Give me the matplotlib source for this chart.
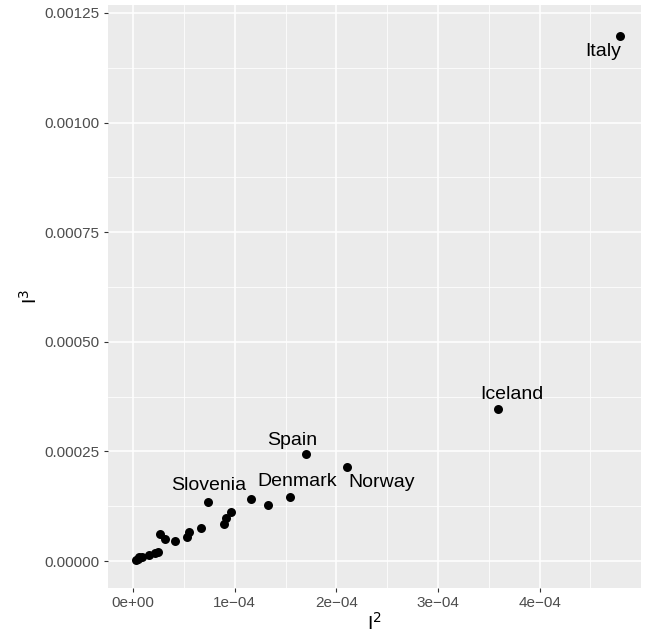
import matplotlib
matplotlib.use("Agg")
import matplotlib.pyplot as plt

# values
x_vals = [4.79e-4, 3.59e-4, 1.706e-4, 2.109e-4, 1.542e-4, 1.332e-4, 1.158e-4,
          0.741e-4, 0.965e-4, 0.912e-4, 0.899e-4, 0.672e-4, 0.551e-4, 0.531e-4,
          0.413e-4, 0.315e-4, 0.269e-4, 0.243e-4, 0.220e-4, 0.157e-4, 0.085e-4,
          0.062e-4, 0.052e-4, 0.026e-4]
y_vals = [1.1975e-3, 3.47e-4, 2.44e-4, 2.144e-4, 1.467e-4, 1.284e-4, 1.421e-4,
          1.339e-4, 1.118e-4, 0.988e-4, 0.837e-4, 0.760e-4, 0.662e-4, 0.540e-4,
          0.456e-4, 0.509e-4, 0.609e-4, 0.212e-4, 0.189e-4, 0.137e-4, 0.084e-4,
          0.084e-4, 0.052e-4, 0.016e-4]

labels = ["Italy", "Iceland", "Spain", "Norway", "Denmark", "Slovenia"]
label_idx = [0, 1, 2, 3, 4, 7]
# text offsets in points from the point
label_off = [(-12, -11), (10, 10), (-10, 10), (24.5, -11.5), (5, 10.6), (0, 12)]

x_ticks = [0, 1e-4, 2e-4, 3e-4, 4e-4]
x_tick_labels = ["0e+00", "1e\u221204", "2e\u221204", "3e\u221204", "4e\u221204"]
y_ticks = [0, 0.00025, 0.0005, 0.00075, 0.001, 0.00125]
y_tick_labels = ["0.00000", "0.00025", "0.00050", "0.00075", "0.00100", "0.00125"]

plt.rcParams["font.family"] = ["Liberation Sans", "DejaVu Sans"]

fig = plt.figure(figsize=(6.51, 6.35), dpi=100)
ax = fig.add_axes([0.166, 0.074, 0.819, 0.918])
ax.set_facecolor("#EBEBEB")
for s in ax.spines.values():
    s.set_visible(False)

ax.set_xlim(-0.246e-4, 5.0e-4)
ax.set_ylim(-0.0000616, 0.001268)

ax.set_xticks(x_ticks)
ax.set_xticklabels(x_tick_labels)
ax.set_yticks(y_ticks)
ax.set_yticklabels(y_tick_labels)
ax.set_xticks([0.5e-4, 1.5e-4, 2.5e-4, 3.5e-4, 4.5e-4], minor=True)
ax.set_yticks([0.000125, 0.000375, 0.000625, 0.000875, 0.001125], minor=True)
ax.grid(which="major", color="white", linewidth=1.1)
ax.grid(which="minor", color="white", linewidth=0.55)
ax.set_axisbelow(True)
ax.tick_params(which="major", length=3, width=0.8, color="#333333",
               labelsize=11, labelcolor="#4D4D4D", pad=3)
ax.tick_params(which="minor", length=0)

ax.scatter(x_vals, y_vals, s=42, color="black", zorder=3, linewidths=0)

for name, i, off in zip(labels, label_idx, label_off):
    ax.annotate(name, (x_vals[i], y_vals[i]), xytext=off, textcoords="offset points",
                ha="center", va="center", fontsize=14, color="black")

ax.set_xlabel("I$^2$", fontsize=14, labelpad=1)
ax.set_ylabel("I$^3$", fontsize=14, labelpad=3)

fig.savefig("out.png", dpi=100)
